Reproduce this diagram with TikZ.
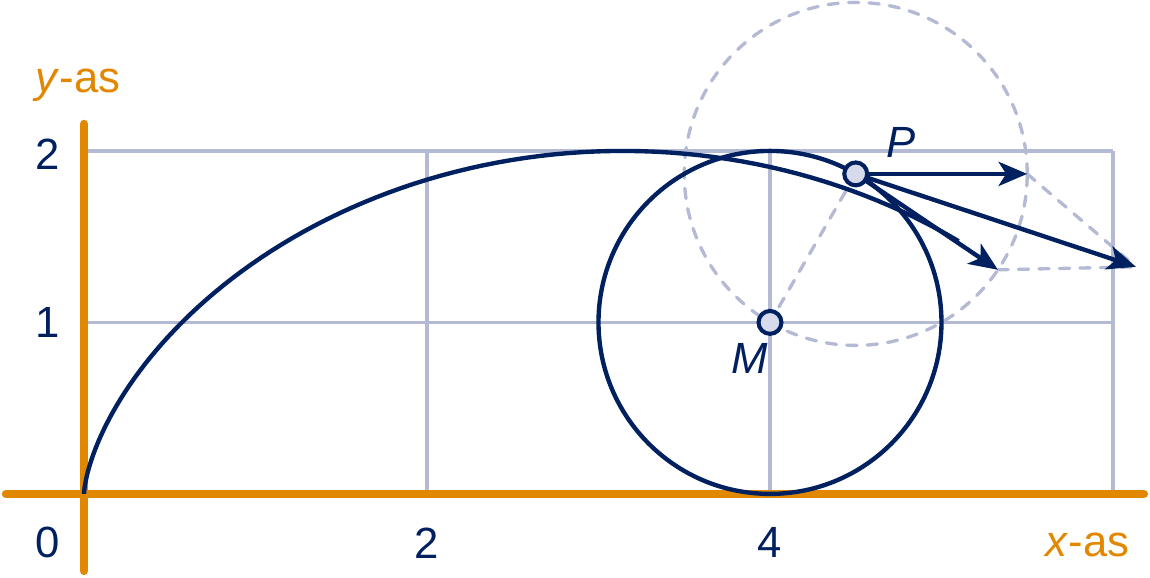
\documentclass[tikz,border=0pt]{standalone}
\usepackage{fontspec}
\setmainfont{Liberation Sans}
\usetikzlibrary{arrows.meta}
\definecolor{navy}{RGB}{0,32,96}
\definecolor{orng}{RGB}{226,135,0}
\definecolor{gridc}{RGB}{180,185,212}
\definecolor{dotc}{RGB}{214,218,234}
\begin{document}
\begin{tikzpicture}[x=2cm,y=2cm,font=\fontsize{14.5}{17}\selectfont,
  grid/.style={gridc,line width=1.1pt},
  axis/.style={orng,line width=2.8pt,line cap=round},
  aux/.style={gridc,line width=1.1pt,dash pattern=on 3.4pt off 3.4pt,line cap=round},
  curve/.style={navy,line width=1.45pt},
  vec/.style={navy,line width=1.45pt,-{Stealth[length=9.5pt,width=8pt,inset=2.5pt]}},
  dot/.style={circle,draw=navy,fill=dotc,line width=1.35pt,inner sep=0pt,minimum size=7.6pt},
  lbl/.style={navy,inner sep=0pt},
  axlbl/.style={orng,inner sep=0pt,anchor=base west}]
\useasboundingbox(-0.49,-0.49)rectangle(6.216,2.88);
\pgfmathsetmacro{\phiP}{60}
\pgfmathsetmacro{\phiR}{-34}
\pgfmathsetmacro{\tEnd}{4.22}
\coordinate(O)at(0,0);
\coordinate(M)at(4,1);
\path(M)++(\phiP:1)coordinate(P);
\path(P)++(1,0)coordinate(H);
\path(P)++(\phiR:1)coordinate(R);
\coordinate(S)at(6.134,1.324);
%
\foreach \x in {2,4,6}\draw[grid](\x,0)--(\x,2);
\foreach \y in {1,2}\draw[grid](0,\y)--(6,\y);
%
\coordinate(xL)at(-0.455,0);
\coordinate(xR)at(6.18,0);
\coordinate(yB)at(0,-0.449);
\coordinate(yT)at(0,2.157);
\draw[axis](xL)--(xR);
\draw[axis](yB)--(yT);
\node[axlbl](ylbl)at(-0.286,2.338){\textit{y}-as};
\node[axlbl](xlbl)at(5.604,-0.367){\textit{x}-as};
\node[lbl](t0)at(-0.21,-0.286){0};
\node[lbl](t2)at(2,-0.286){2};
\node[lbl](t4)at(4,-0.286){4};
\node[lbl](s1)at(-0.21,1){1};
\node[lbl](s2)at(-0.21,1.98){2};
%
\draw[aux](P)circle[radius=1];
\draw[aux](P)--(M);
\draw[aux](H)--(S);
\draw[aux](R)--(S);
%
\draw[curve](M)circle[radius=1];
\draw[curve]plot[domain=0:\tEnd,samples=100,variable=\t]({\t-sin(\t r)},{1-cos(\t r)});
\draw[vec](P)--(H);
\draw[vec](P)--(R);
\draw[vec](P)--(S);
%
\node[dot](dotM)at(M){};
\node[dot](dotP)at(P){};
\path(P)++(0.264,0.181)node[lbl](lP){\textit{P}};
\path(M)++(-0.12,-0.213)node[lbl](lM){\textit{M}};
\end{tikzpicture}
\end{document}
